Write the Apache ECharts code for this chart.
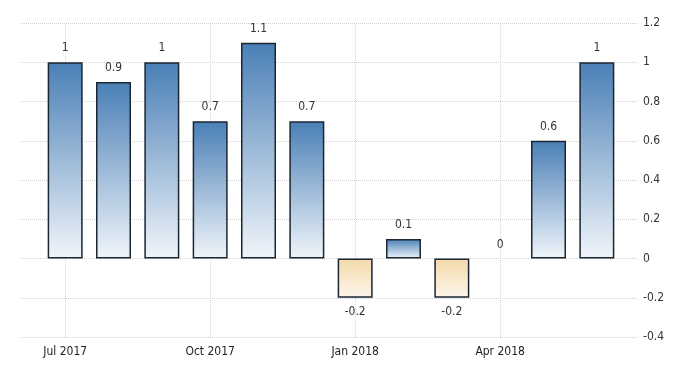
<!DOCTYPE html>
<html><head><meta charset="utf-8">
<script src="https://cdn.jsdelivr.net/npm/echarts@6/dist/echarts.min.js"></script>
<style>html,body{margin:0;padding:0;background:#fff}#c{width:700px;height:375px}</style>
</head><body><div id="c"></div>
<script>
const categories = ['Jul 2017','Aug 2017','Sep 2017','Oct 2017','Nov 2017','Dec 2017','Jan 2018','Feb 2018','Mar 2018','Apr 2018','May 2018','Jun 2018'];
const values = [1, 0.9, 1, 0.7, 1.1, 0.7, -0.2, 0.1, -0.2, 0, 0.6, 1];
const labeledCategories = ['Jul 2017','Oct 2017','Jan 2018','Apr 2018'];
const yMin = -0.4, yMax = 1.2, yStep = 0.2;

const FONT = '"DejaVu Sans Condensed","Liberation Sans Narrow","Arial Narrow",sans-serif';
const posGrad = {type:'linear',x:0,y:0,x2:0,y2:1,colorStops:[{offset:0,color:'#4a7fb6'},{offset:1,color:'#f0f5fa'}]};
const negGrad = {type:'linear',x:0,y:0,x2:0,y2:1,colorStops:[{offset:0,color:'#f4d9aa'},{offset:1,color:'#fcf6ec'}]};

const chart = echarts.init(document.getElementById('c'));
chart.setOption({
  animation:false,
  backgroundColor:'#fff',
  grid:[
    {left:20,right:63,top:23,bottom:38},
    {left:41,right:79,top:23,bottom:38}
  ],
  xAxis:[
    {gridIndex:0,type:'value',show:false,min:0,max:1},
    {gridIndex:1,type:'category',data:categories,
     axisLine:{show:false},axisTick:{show:false},
     axisLabel:{interval:(i,v)=>labeledCategories.includes(v),color:'#222',fontFamily:FONT,fontSize:12,margin:9},
     splitLine:{show:false}}
  ],
  yAxis:[
    {gridIndex:0,type:'value',position:'right',min:yMin,max:yMax,interval:yStep,
     axisLine:{show:false},axisTick:{show:false},
     axisLabel:{color:'#333',fontFamily:FONT,fontSize:12,margin:6,formatter:v=>String(Math.round(v*10)/10)},
     splitLine:{show:true,lineStyle:{color:'#cfcfcf',type:'dotted',width:1}}},
    {gridIndex:1,type:'value',show:false,min:yMin,max:yMax,interval:yStep,splitLine:{show:false}}
  ],
  series:[{
    type:'line',xAxisIndex:1,yAxisIndex:1,z:1,silent:true,
    data:categories.map(()=>null),showSymbol:false,lineStyle:{opacity:0},
    markLine:{silent:true,symbol:'none',z:1,label:{show:false},
      lineStyle:{color:'#d5d5d5',type:'dotted',width:1},
      data:labeledCategories.map(c=>({xAxis:c}))}
  },{
    type:'bar',xAxisIndex:1,yAxisIndex:1,barWidth:35,z:3,
    data:values.map(v=>({value:v,
      itemStyle:{color:v<0?negGrad:posGrad,borderColor:'#1b2633',borderWidth:v===0?0:1.5},
      label:{position:v<0?'bottom':'top'}})),
    label:{show:true,color:'#333',fontFamily:FONT,fontSize:12,distance:8,
      formatter:p=>String(p.value)}
  }]
});
</script></body></html>
